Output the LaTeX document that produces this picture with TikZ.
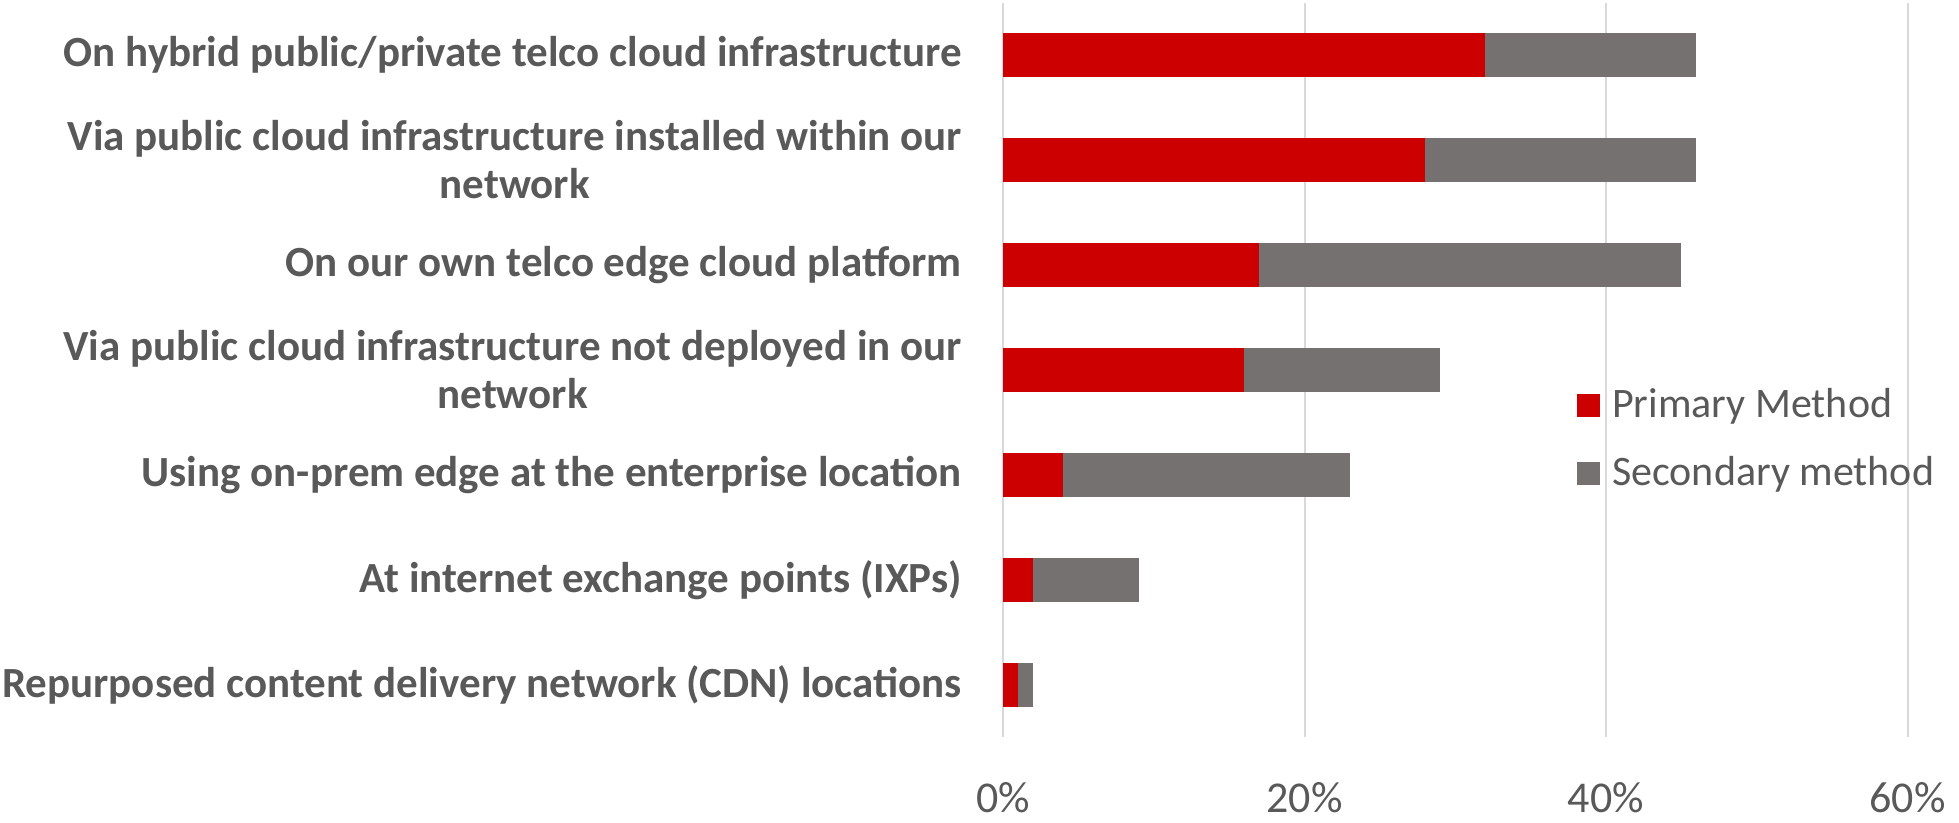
\documentclass[tikz,border=0pt]{standalone}
\usepackage{fontspec}
\setmainfont{Carlito}
\definecolor{pred}{HTML}{CC0000}
\definecolor{pgray}{HTML}{767171}
\definecolor{gridc}{HTML}{D9D9D9}
\definecolor{txt}{HTML}{595959}
\begin{document}
\begin{tikzpicture}[x=1pt,y=-1pt,
  catlabel/.style={anchor=east,align=center,text=txt,inner sep=0pt,font=\bfseries\fontsize{43}{48}\selectfont},
  ticklabel/.style={text=txt,inner sep=0pt,font=\fontsize{44}{52}\selectfont},
  leglabel/.style={anchor=west,text=txt,inner sep=0pt,font=\fontsize{42}{50}\selectfont},
  redbar/.style={fill=pred},
  graybar/.style={fill=pgray},
  gridline/.style={draw=gridc,line width=2pt}]
\useasboundingbox (0,0) rectangle (1959,822);
\fill[white] (0,0) rectangle (1959,822);
% grid lines
\foreach \i in {0,1,2,3}{
  \draw[gridline] ({1003+301.5*\i},3) -- ({1003+301.5*\i},737);
}
% bars: center y, primary %, total %
\foreach \yc/\p/\t in {55/32/46, 160/28/46, 265/17/45, 370/16/29, 475/4/23, 580/2/9, 685/1/2}{
  \fill[redbar] (1003,\yc-22) rectangle ({1003+15.075*\p},\yc+22);
  \fill[graybar] ({1003+15.075*\p},\yc-22) rectangle ({1003+15.075*\t},\yc+22);
}
% category labels
\node[catlabel] (c1) at (962,55) {On hybrid public/private telco cloud infrastructure};
\node[catlabel] (c2) at (962,160) {Via public cloud infrastructure installed within our\\network};
\node[catlabel] (c3) at (962,265) {On our own telco edge cloud platform};
\node[catlabel] (c4) at (962,370) {Via public cloud infrastructure not deployed in our\\network};
\node[catlabel] (c5) at (962,475) {Using on-prem edge at the enterprise location};
\node[catlabel] (c6) at (962,580) {At internet exchange points (IXPs)};
\node[catlabel] (c7) at (962,685) {Repurposed content delivery network (CDN) locations};
% tick labels
\node[ticklabel] (t0) at (1003,798) {0\%};
\node[ticklabel] (t1) at (1304.5,798) {20\%};
\node[ticklabel] (t2) at (1606,798) {40\%};
\node[ticklabel] (t3) at (1907.5,798) {60\%};
% legend
\fill[pred] (1577,394) rectangle (1600,417);
\fill[pgray] (1577,462) rectangle (1600,485);
\node[leglabel] (l1) at (1612,406) {Primary Method};
\node[leglabel] (l2) at (1612,474) {Secondary method};
\end{tikzpicture}
\end{document}
